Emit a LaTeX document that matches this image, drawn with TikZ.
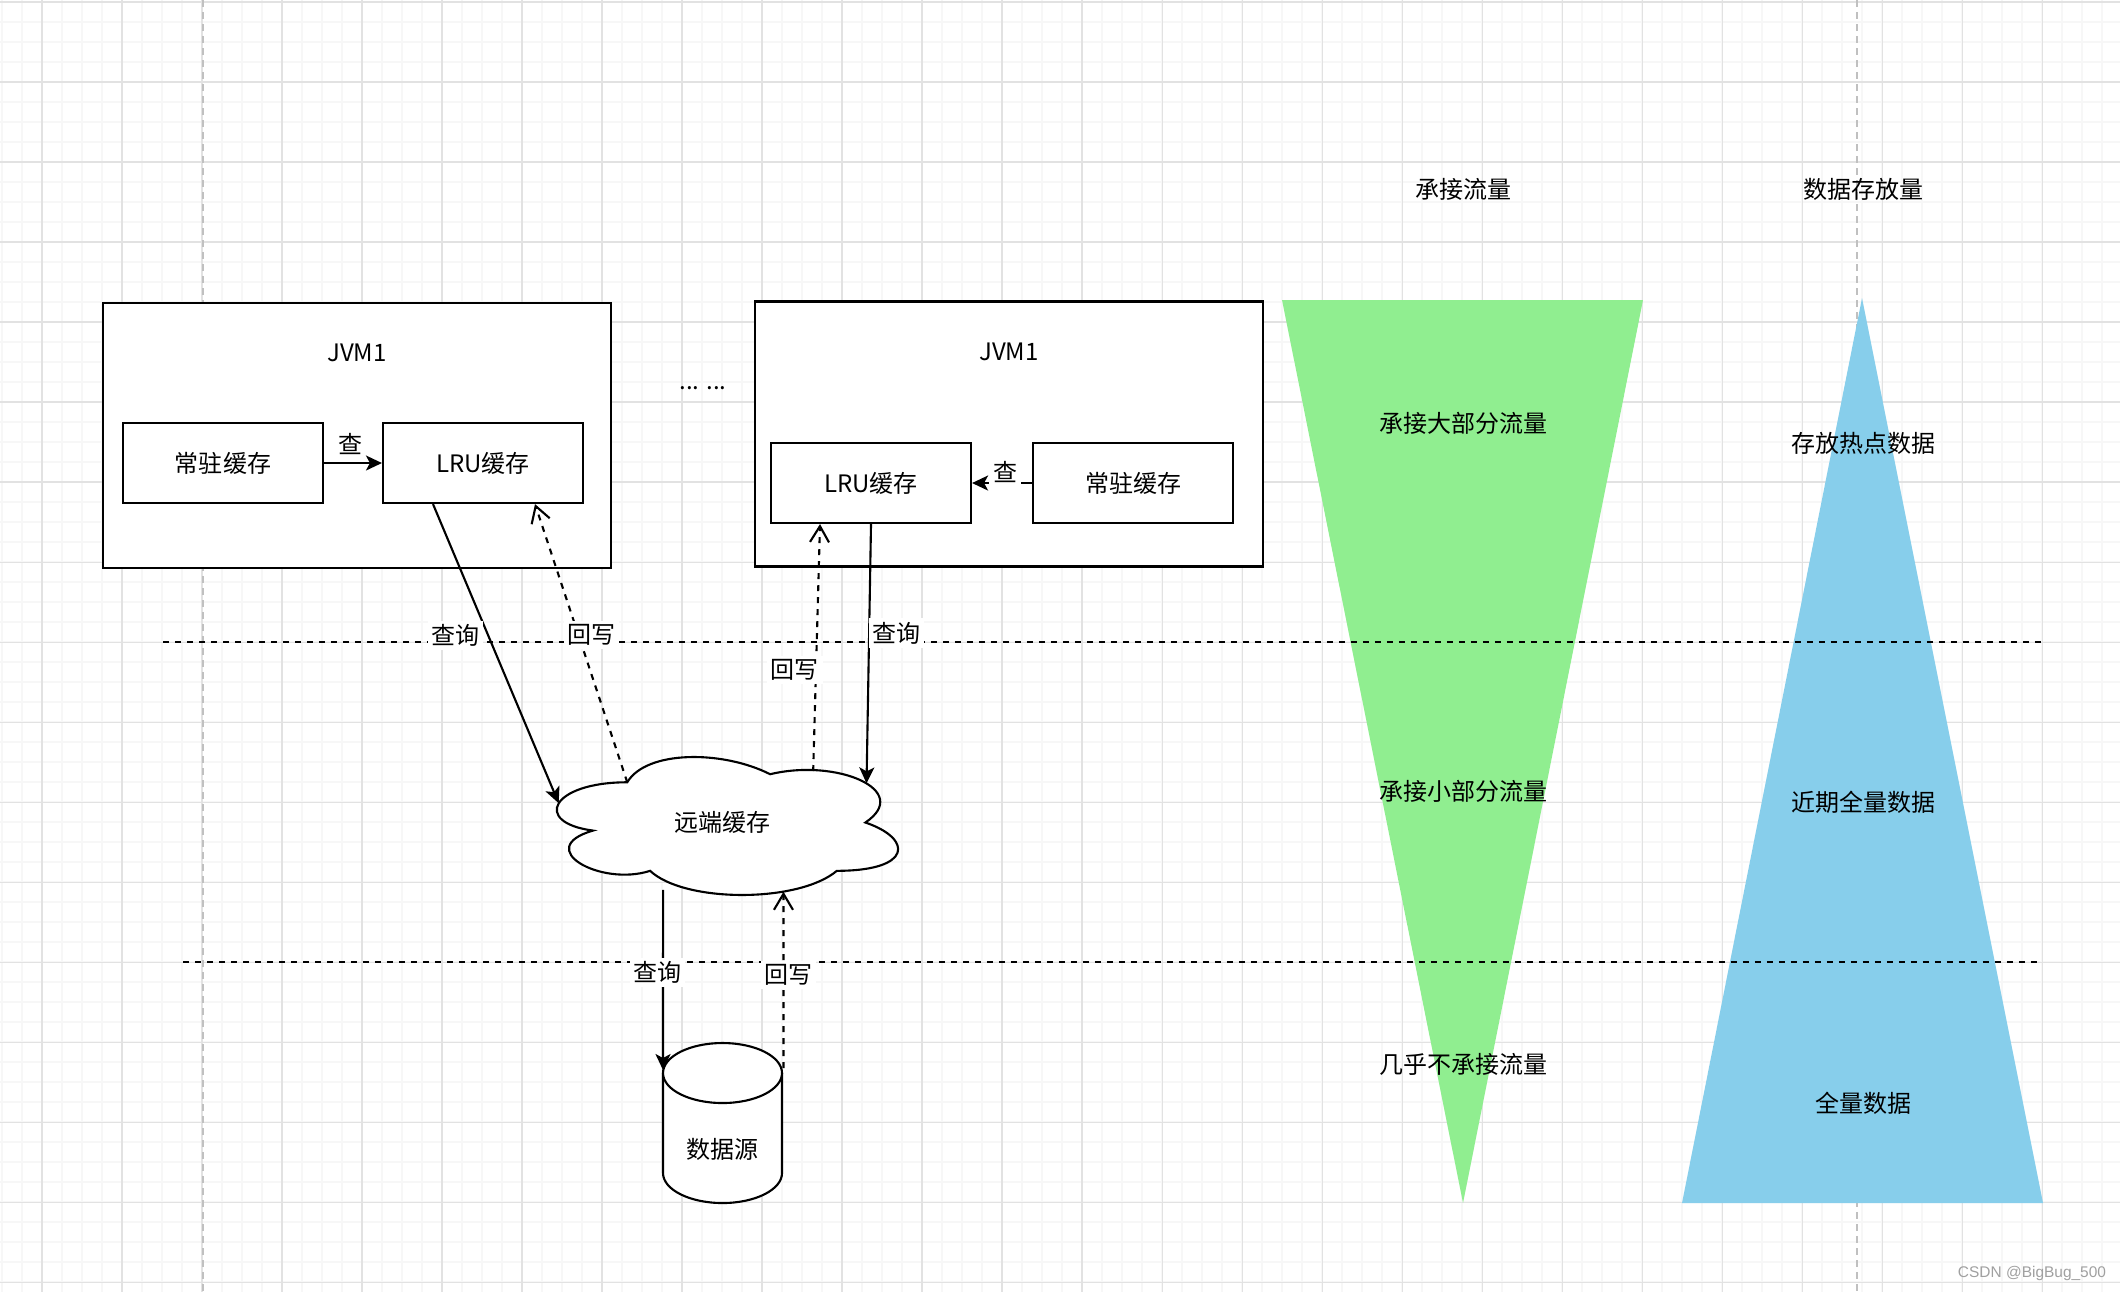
\documentclass[tikz,border=0pt]{standalone}
\usepackage{fontspec}
\setmainfont{Noto Sans CJK SC}
\newfontfamily\wmfont{Liberation Sans}
\usetikzlibrary{arrows.meta}
\definecolor{gridminor}{RGB}{247,247,247}
\definecolor{gridmajor}{RGB}{226,226,226}
\definecolor{guide}{RGB}{192,192,192}
\definecolor{flowgreen}{RGB}{144,238,144}
\definecolor{dataskyblue}{RGB}{135,206,235}
\definecolor{markgray}{RGB}{160,160,160}

\begin{document}
\begin{tikzpicture}[x=1cm, y=-1cm,
	every node/.style={font=\fontsize{6.83pt}{8pt}\selectfont},
	box/.style={shape=rectangle, draw=black, line width=0.6pt, fill=white, minimum width=2cm, minimum height=0.8cm},
	jvm/.style={shape=rectangle, draw=black, line width=0.6pt, fill=white, minimum width=5.08cm, minimum height=2.65cm},
	query/.style={line width=0.6pt, -{Stealth[length=0.16cm, width=0.15cm, inset=0.04cm]}},
	writeback/.style={line width=0.6pt, dash pattern=on 0.06cm off 0.06cm, -{Straight Barb[length=0.16cm, width=0.19cm]}},
	lbl/.style={fill=white, inner sep=1pt},
	divline/.style={line width=0.6pt, dash pattern=on 0.06cm off 0.06cm}]
	\useasboundingbox (0,0) rectangle (21.2,12.92);
	\fill[white] (0,0) rectangle (21.2,12.92);
	% grid
	\foreach \gx in {0.02,0.22,...,21.2} \draw[gridminor, line width=0.3pt] (\gx,0) -- (\gx,12.92);
	\foreach \gy in {0.02,0.22,...,12.92} \draw[gridminor, line width=0.3pt] (0,\gy) -- (21.2,\gy);
	\foreach \gx in {0.42,1.22,...,21.2} \draw[gridmajor, line width=0.3pt] (\gx,0) -- (\gx,12.92);
	\foreach \gy in {0.02,0.82,...,12.92} \draw[gridmajor, line width=0.3pt] (0,\gy) -- (21.2,\gy);
	\draw[guide, line width=0.45pt, dash pattern=on 0.07cm off 0.05cm] (2.03,0) -- (2.03,12.92);
	\draw[guide, line width=0.45pt, dash pattern=on 0.07cm off 0.05cm] (18.57,0) -- (18.57,12.92);
	% triangles
	\fill[flowgreen] (12.82,3.00) -- (16.43,3.00) -- (14.63,12.03) -- cycle;
	\fill[dataskyblue] (18.62,2.98) -- (20.43,12.03) -- (16.82,12.03) -- cycle;
	\draw[divline] (1.63,6.42) -- (20.41,6.42);
	\draw[divline] (1.83,9.62) -- (20.37,9.62);

	\node[jvm] (jvmL) at (3.57,4.355) {};
	\node (jvmLname) at ([yshift=-0.51cm]jvmL.north) {JVM1};
	\node[box] (residentL) at (2.23,4.63) {常驻缓存};
	\node[box] (lruL) at (4.83,4.63) {LRU缓存};
	\draw[query] (residentL) -- node[pos=0.45, yshift=0.19cm] (lookL) {查} (lruL);

	\node (dots) at (7.03,3.88) {... ...};

	\node[jvm] (jvmR) at (10.09,4.34) {};
	\node (jvmRname) at ([yshift=-0.51cm]jvmR.north) {JVM1};
	\node[box] (lruR) at (8.71,4.83) {LRU缓存};
	\node[box] (residentR) at (11.33,4.83) {常驻缓存};
	\draw[query] (residentR) -- node[lbl, pos=0.45, yshift=0.11cm] (lookR) {查} (lruR);

	% remote cache
	\begin{scope}[shift={(5.32,7.42)}, x=3.81cm, y=-1.61cm]
		\draw[line width=0.6pt, fill=white] (0.25,0.25) .. controls (0.05,0.25) and (0,0.5) .. (0.16,0.55)
			.. controls (0,0.66) and (0.18,0.9) .. (0.31,0.8)
			.. controls (0.4,1) and (0.7,1) .. (0.8,0.8)
			.. controls (1,0.8) and (1,0.6) .. (0.875,0.5)
			.. controls (1,0.3) and (0.8,0.1) .. (0.625,0.2)
			.. controls (0.5,0.05) and (0.3,0.05) .. (0.25,0.25) -- cycle;
		\node (remote) at (0.5,0.5) {远端缓存};
		\coordinate (rcInL) at (0.07,0.38);
		\coordinate (rcOutL) at (0.25,0.25);
		\coordinate (rcOutR) at (0.738,0.18);
		\coordinate (rcInR) at (0.878,0.257);
		\coordinate (rcOutB) at (0.344,0.919);
		\coordinate (rcInB) at (0.66,0.93);
	\end{scope}

	% data source
	\draw[line width=0.6pt, fill=white] (6.63,10.73) -- (6.63,11.73) arc[start angle=180, end angle=360, x radius=0.595cm, y radius=0.3cm] -- (7.82,10.73);
	\draw[line width=0.6pt, fill=white] (7.225,10.73) ellipse[x radius=0.595cm, y radius=0.3cm];
	\node (source) at (7.22,11.49) {数据源};
	\coordinate (dsL) at (6.63,10.70);
	\coordinate (dsR) at (7.835,10.68);

	\draw[query] ([xshift=-0.5cm]lruL.south) -- node[lbl, pos=0.44, xshift=-0.33cm] (qL) {查询} (rcInL);
	\draw[writeback] (rcOutL) -- node[lbl, pos=0.53, xshift=0.13cm] (wL) {回写} ([xshift=0.52cm]lruL.south);
	\draw[writeback] (rcOutR) -- node[lbl, pos=0.41, xshift=-0.21cm] (wR) {回写} ([xshift=-0.51cm]lruR.south);
	\draw[query] (lruR.south) -- node[lbl, pos=0.42, xshift=0.27cm] (qR) {查询} (rcInR);
	\draw[query] (rcOutB) -- node[lbl, pos=0.46, xshift=-0.06cm] (qB) {查询} (dsL);
	\draw[writeback] (dsR) -- node[lbl, pos=0.53, xshift=0.05cm] (wB) {回写} (rcInB);

	\node (flowTitle) at (14.63,1.89) {承接流量};
	\node (dataTitle) at (18.63,1.89) {数据存放量};
	\node (flowMost) at (14.63,4.23) {承接大部分流量};
	\node (dataHot) at (18.63,4.43) {存放热点数据};
	\node (flowSome) at (14.63,7.91) {承接小部分流量};
	\node (dataRecent) at (18.63,8.02) {近期全量数据};
	\node (flowNone) at (14.63,10.64) {几乎不承接流量};
	\node (dataAll) at (18.63,11.03) {全量数据};

	\node[text=markgray, font=\wmfont\fontsize{4.4pt}{5.5pt}\selectfont] (mark) at (20.32,12.73) {CSDN @BigBug\_500};
\end{tikzpicture}
\end{document}
